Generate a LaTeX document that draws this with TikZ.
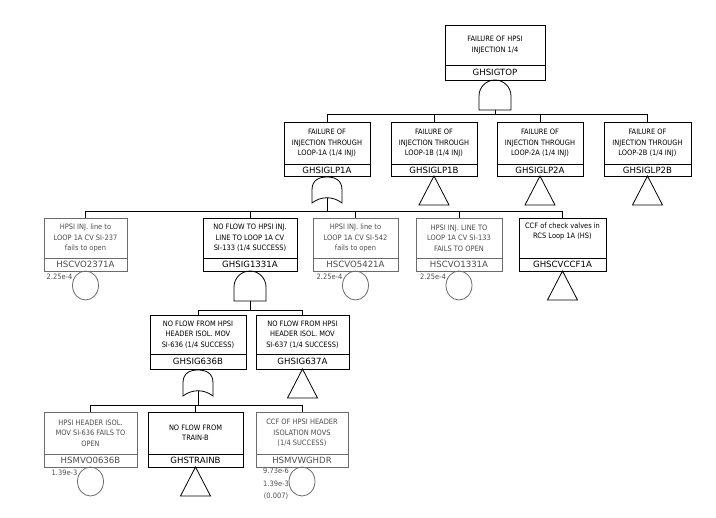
\documentclass[tikz,border=0pt]{standalone}
\usepackage{fontspec}
\setmainfont{DejaVu Sans Condensed}
\newfontfamily\idfont{DejaVu Sans}
\usetikzlibrary{positioning}

\definecolor{evline}{gray}{0.42}
\definecolor{evtext}{gray}{0.3}

\tikzset{
  desc/.style={draw=black, line width=0.8pt, anchor=north, align=center,
    inner sep=1pt, outer sep=0pt, font=\fontsize{7.4}{10.5}\selectfont},
  ident/.style={draw=black, line width=0.8pt, align=center, inner sep=0pt,
    outer sep=0pt, font=\idfont\fontsize{8.6}{11}\selectfont},
  basicdesc/.style={desc, draw=evline, text=evtext},
  basicident/.style={ident, draw=evline, text=evtext},
  prob/.style={anchor=east, inner sep=0.5pt, text=evtext, align=center,
    font=\fontsize{7.4}{12.5}\selectfont},
  andgate/.pic={
    \draw[line width=0.8pt] (-16,30) -- (-16,16) arc[start angle=180, end angle=0, radius=16pt] -- (16,30) -- cycle;
    \coordinate (-out) at (0,30);
  },
  orgate/.pic={
    \draw[line width=0.8pt] (-15,27) -- (-15,14) .. controls (-15,4) and (-8,1) .. (0,1)
      .. controls (8,1) and (15,4) .. (15,14) -- (15,27)
      .. controls (6,20) and (-6,20) .. (-15,27) -- cycle;
    \coordinate (-out) at (0,21.7);
  },
  transfer/.pic={
    \draw[line width=0.8pt] (0,0) -- (15,29) -- (-15,29) -- cycle;
  },
  basicev/.pic={
    \draw[line width=0.8pt, evline] (0,14.5) ellipse [x radius=13pt, y radius=14.5pt];
    \coordinate (-lab) at (-12.5,6);
  }
}

\begin{document}
\begin{tikzpicture}[x=1pt, y=-1pt]
\useasboundingbox (0,0) rectangle (716,518);

% top event
\node[desc, minimum width=100, minimum height=40] (top) at (495,25) {FAILURE OF HPSI\\INJECTION 1/4};
\node[ident, minimum width=100, minimum height=15, below=0pt of top] (top-id) {GHSIGTOP};
\pic (gtop) at (top-id.south) {andgate};

% loops
\node[desc, minimum width=86, minimum height=42] (lp1a) at (327,122) {FAILURE OF\\INJECTION THROUGH\\LOOP-1A (1/4 INJ)};
\node[ident, minimum width=86, minimum height=12, below=0pt of lp1a] (lp1a-id) {GHSIGLP1A};
\node[desc, minimum width=86, minimum height=42] (lp1b) at (434,122) {FAILURE OF\\INJECTION THROUGH\\LOOP-1B (1/4 INJ)};
\node[ident, minimum width=86, minimum height=12, below=0pt of lp1b] (lp1b-id) {GHSIGLP1B};
\node[desc, minimum width=86, minimum height=42] (lp2a) at (540,122) {FAILURE OF\\INJECTION THROUGH\\LOOP-2A (1/4 INJ)};
\node[ident, minimum width=86, minimum height=12, below=0pt of lp2a] (lp2a-id) {GHSIGLP2A};
\node[desc, minimum width=87, minimum height=42] (lp2b) at (647.5,122) {FAILURE OF\\INJECTION THROUGH\\LOOP-2B (1/4 INJ)};
\node[ident, minimum width=87, minimum height=12, below=0pt of lp2b] (lp2b-id) {GHSIGLP2B};

\pic (glp1a) at (lp1a-id.south) {orgate};
\pic at (lp1b-id.south) {transfer};
\pic at (lp2a-id.south) {transfer};
\pic at (lp2b-id.south) {transfer};

\foreach \n in {lp1a,lp1b,lp2a,lp2b}
  \draw[line width=0.8pt] (gtop-out) |- ([yshift=8pt]\n.north) -- (\n.north);

% loop 1A inputs
\node[basicdesc, minimum width=83, minimum height=40] (cv237) at (85.5,218) {HPSI INJ. line to\\LOOP 1A CV SI-237\\fails to open};
\node[basicident, minimum width=83, minimum height=13, below=0pt of cv237] (cv237-id) {HSCVO2371A};
\node[desc, minimum width=94, minimum height=40] (g1331) at (250,218) {NO FLOW TO HPSI INJ.\\LINE TO LOOP 1A CV\\SI-133 (1/4 SUCCESS)};
\node[ident, minimum width=94, minimum height=13, below=0pt of g1331] (g1331-id) {GHSIG1331A};
\node[basicdesc, minimum width=85, minimum height=40] (cv542) at (355.5,218) {HPSI INJ. line to\\LOOP 1A CV SI-542\\fails to open};
\node[basicident, minimum width=85, minimum height=13, below=0pt of cv542] (cv542-id) {HSCVO5421A};
\node[basicdesc, minimum width=86, minimum height=40] (cv133) at (459,218) {HPSI INJ. LINE TO\\LOOP 1A CV SI-133\\FAILS TO OPEN};
\node[basicident, minimum width=86, minimum height=13, below=0pt of cv133] (cv133-id) {HSCVO1331A};
\node[desc, minimum width=87, minimum height=40] (ccf1a) at (562.5,218) {CCF of check valves in\\RCS Loop 1A (HS)\\[4pt]};
\node[ident, minimum width=87, minimum height=13, below=0pt of ccf1a] (ccf1a-id) {GHSCVCCF1A};

\pic (c237) at (cv237-id.south) {basicev};
\pic (g1331g) at (g1331-id.south) {andgate};
\pic (c542) at (cv542-id.south) {basicev};
\pic (c133) at (cv133-id.south) {basicev};
\pic at (ccf1a-id.south) {transfer};
\node[prob] (p237) at (c237-lab) {2.25e-4};
\node[prob] (p542) at (c542-lab) {2.25e-4};
\node[prob] (p133) at (c133-lab) {2.25e-4};

\foreach \n in {cv237,g1331,cv542,cv133,ccf1a}
  \draw[line width=0.8pt] (glp1a-out) |- ([yshift=7pt]\n.north) -- (\n.north);

% SI-133 inputs
\node[desc, minimum width=96, minimum height=39] (g636) at (198,315) {NO FLOW FROM HPSI\\HEADER ISOL. MOV\\SI-636 (1/4 SUCCESS)};
\node[ident, minimum width=96, minimum height=15, below=0pt of g636] (g636-id) {GHSIG636B};
\node[desc, minimum width=93, minimum height=39] (g637) at (302.5,315) {NO FLOW FROM HPSI\\HEADER ISOL. MOV\\SI-637 (1/4 SUCCESS)};
\node[ident, minimum width=93, minimum height=15, below=0pt of g637] (g637-id) {GHSIG637A};

\pic (g636g) at (g636-id.south) {orgate};
\pic at (g637-id.south) {transfer};

\foreach \n in {g636,g637}
  \draw[line width=0.8pt] (g1331g-out) |- ([yshift=5pt]\n.north) -- (\n.north);

% SI-636 inputs
\node[basicdesc, minimum width=93, minimum height=42] (mv636) at (90.5,412) {HPSI HEADER ISOL.\\MOV SI-636 FAILS TO\\OPEN};
\node[basicident, minimum width=93, minimum height=13, below=0pt of mv636] (mv636-id) {HSMVO0636B};
\node[desc, minimum width=95, minimum height=42] (trb) at (195.5,412) {NO FLOW FROM\\TRAIN-B};
\node[ident, minimum width=95, minimum height=13, below=0pt of trb] (trb-id) {GHSTRAINB};
\node[basicdesc, minimum width=92, minimum height=42] (mvccf) at (302,412) {CCF OF HPSI HEADER\\ISOLATION MOVS\\(1/4 SUCCESS)};
\node[basicident, minimum width=92, minimum height=13, below=0pt of mvccf] (mvccf-id) {HSMVWGHDR};

\pic (c636) at (mv636-id.south) {basicev};
\pic at (trb-id.south) {transfer};
\pic (cccf) at (mvccf-id.south) {basicev};
\node[prob] (p636) at (c636-lab) {1.39e-3};
\node[prob, anchor=north east] (pccf) at ([yshift=5.5pt]cccf-lab) {9.73e-6\\1.39e-3\\(0.007)};

\foreach \n in {mv636,trb,mvccf}
  \draw[line width=0.8pt] (g636g-out) |- ([yshift=7pt]\n.north) -- (\n.north);
\end{tikzpicture}
\end{document}
